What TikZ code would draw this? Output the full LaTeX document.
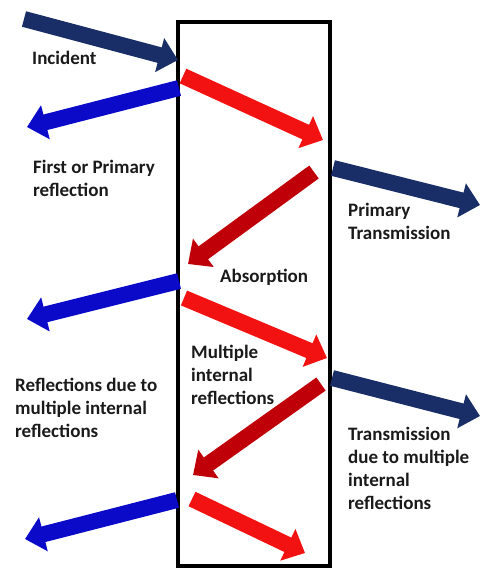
\documentclass[tikz,border=0pt]{standalone}
\usepackage{fontspec}
\setmainfont{Carlito}
\usetikzlibrary{arrows.meta}
\definecolor{navyc}{HTML}{192D66}
\definecolor{bluec}{HTML}{0A0AC8}
\definecolor{redc}{HTML}{F21212}
\definecolor{darkredc}{HTML}{C00008}
\definecolor{textc}{HTML}{1A1A1A}
\tikzset{
  blockarrow/.style={line width=16pt, -{Triangle[length=19pt,width=34pt]}},
  navyarrow/.style={blockarrow, draw=navyc},
  bluearrow/.style={blockarrow, draw=bluec},
  redarrow/.style={blockarrow, draw=redc},
  darkredarrow/.style={blockarrow, draw=darkredc},
  lbl/.style={inner sep=0pt, anchor=west, align=left, text=textc,
    font=\fontsize{19}{23}\selectfont\bfseries},
  slab/.style={draw=black, line width=3.5pt}
}
\begin{document}
\begin{tikzpicture}[x=1pt,y=-1pt]
\useasboundingbox (0,0) rectangle (480,570);
% slab
\node[slab, minimum width=152pt, minimum height=544pt, inner sep=0pt] (box) at (254,294) {};
% coordinates
\coordinate (inc0) at (24,19);   \coordinate (inc1) at (178,60);
\coordinate (r10) at (179,88);   \coordinate (r11) at (27,127);
\coordinate (a10) at (183,76);   \coordinate (a11) at (323,140);
\coordinate (d10) at (314,172);  \coordinate (d11) at (188,264);
\coordinate (t10) at (333,168);  \coordinate (t11) at (480,205);
\coordinate (r20) at (179,281);  \coordinate (r21) at (27,319);
\coordinate (a20) at (184,298);  \coordinate (a21) at (327,358);
\coordinate (d20) at (321,384);  \coordinate (d21) at (193,475);
\coordinate (t20) at (332,378);  \coordinate (t21) at (480,416);
\coordinate (r30) at (177,500);  \coordinate (r31) at (25,539);
\coordinate (a30) at (192,499);  \coordinate (a31) at (305,553);
% arrows
\draw[navyarrow] (inc0) -- (inc1);
\draw[bluearrow] (r10) -- (r11);
\draw[redarrow] (a10) -- (a11);
\draw[darkredarrow] (d10) -- (d11);
\draw[navyarrow] (t10) -- (t11);
\draw[bluearrow] (r20) -- (r21);
\draw[redarrow] (a20) -- (a21);
\draw[darkredarrow] (d20) -- (d21);
\draw[navyarrow] (t20) -- (t21);
\draw[bluearrow] (r30) -- (r31);
\draw[redarrow] (a30) -- (a31);
% labels
\node[lbl] (incident) at (32,58) {Incident};
\node[lbl] (first) at (33,178) {First or Primary\\reflection};
\node[lbl] (absorp) at (220,277) {Absorption};
\node[lbl] (primt) at (348,221) {Primary\\Transmission};
\node[lbl] (multi) at (191,375) {Multiple\\internal\\reflections};
\node[lbl] (reflmulti) at (15,408) {Reflections due to\\multiple internal\\reflections};
\node[lbl] (transmulti) at (348,468) {Transmission\\due to multiple\\internal\\reflections};
\end{tikzpicture}
\end{document}
